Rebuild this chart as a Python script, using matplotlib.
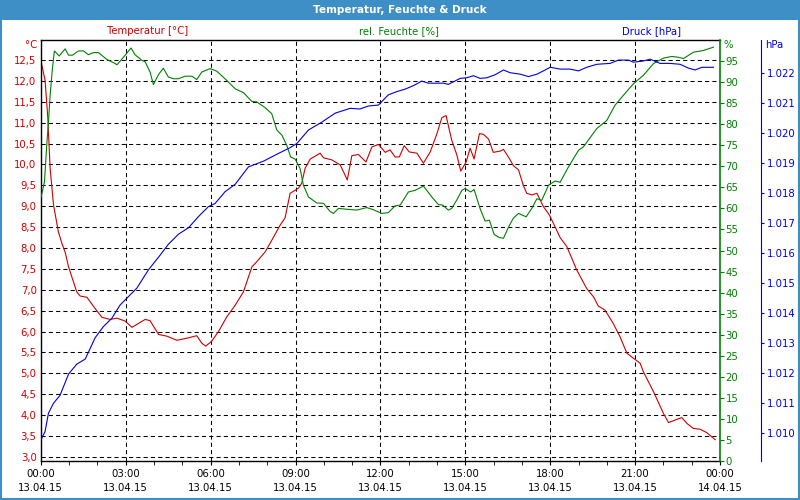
import matplotlib
matplotlib.use("Agg")
import matplotlib.pyplot as plt
from matplotlib.ticker import FixedLocator, FuncFormatter, MultipleLocator
from matplotlib.patches import Rectangle

# hours since 13.04.15 00:00
t_temp = [0.01, 0.15, 0.25, 0.27, 0.33, 0.45, 0.62, 0.75, 0.86, 0.98, 1.27, 1.39, 1.63, 1.92,
          2.16, 2.45, 2.69, 2.98, 3.22, 3.69, 3.86, 4.16, 4.45, 4.81, 5.22, 5.51, 5.69, 5.83,
          6.04, 6.28, 6.57, 6.87, 7.16, 7.46, 7.63, 7.93, 8.10, 8.46, 8.63, 8.81, 9.10, 9.22,
          9.34, 9.52, 9.87, 9.99, 10.28, 10.58, 10.83, 10.99, 11.22, 11.49, 11.70, 11.93,
          12.17, 12.34, 12.52, 12.67, 12.84, 13.02, 13.29, 13.52, 13.76, 13.99, 14.17, 14.32,
          14.52, 14.70, 14.84, 15.03, 15.17, 15.31, 15.50, 15.64, 15.82, 15.99, 16.23, 16.35,
          16.55, 16.70, 16.88, 17.05, 17.17, 17.35, 17.53, 17.76, 17.97, 18.17, 18.35, 18.59,
          18.94, 19.29, 19.53, 19.70, 19.94, 20.23, 20.47, 20.71, 20.94, 21.18, 21.29, 21.65,
          22.00, 22.18, 22.41, 22.65, 22.83, 23.06, 23.30, 23.53, 23.83]
temp = [12.46, 12.02, 11.1, 10.78, 9.9, 9.03, 8.39, 8.1, 7.9, 7.55, 6.95, 6.85, 6.82, 6.55,
        6.34, 6.29, 6.32, 6.25, 6.1, 6.29, 6.26, 5.93, 5.89, 5.79, 5.85, 5.9, 5.72, 5.65,
        5.77, 6.0, 6.35, 6.63, 6.95, 7.55, 7.67, 7.91, 8.11, 8.55, 8.72, 9.31, 9.43, 9.55,
        9.91, 10.13, 10.27, 10.16, 10.11, 9.99, 9.63, 10.21, 10.24, 10.06, 10.42, 10.48,
        10.29, 10.35, 10.18, 10.18, 10.45, 10.3, 10.27, 10.03, 10.3, 10.72, 11.12, 11.17,
        10.58, 10.23, 9.84, 10.06, 10.39, 10.13, 10.74, 10.72, 10.61, 10.29, 10.32, 10.36,
        10.15, 9.97, 9.87, 9.5, 9.31, 9.27, 9.31, 8.99, 8.79, 8.51, 8.25, 8.03,
        7.47, 7.03, 6.83, 6.61, 6.51, 6.19, 5.87, 5.48, 5.36, 5.24, 5.04, 4.56,
        4.04, 3.82, 3.88, 3.94, 3.8, 3.68, 3.66, 3.58, 3.41]

t_hum = [0.01, 0.13, 0.21, 0.27, 0.33, 0.41, 0.48, 0.65, 0.86, 0.98, 1.12, 1.33, 1.51, 1.68,
         1.86, 2.04, 2.33, 2.63, 2.69, 2.92, 3.19, 3.33, 3.57, 3.69, 3.86, 3.98, 4.16, 4.33,
         4.51, 4.69, 4.86, 5.10, 5.34, 5.51, 5.69, 5.98, 6.22, 6.57, 6.87, 7.16, 7.46, 7.63,
         7.93, 8.16, 8.34, 8.52, 8.69, 8.83, 8.99, 9.16, 9.28, 9.46, 9.75, 9.99, 10.22, 10.34,
         10.52, 10.81, 11.17, 11.52, 11.75, 12.05, 12.28, 12.52, 12.70, 12.99, 13.23, 13.52,
         13.82, 14.05, 14.20, 14.40, 14.52, 14.70, 14.88, 14.99, 15.19, 15.31, 15.52, 15.70,
         15.85, 16.02, 16.20, 16.35, 16.53, 16.70, 16.88, 17.15, 17.35, 17.53, 17.70, 17.94,
         18.17, 18.35, 18.64, 19.00, 19.17, 19.65, 20.00, 20.29, 20.59, 20.94, 21.29, 21.65,
         22.00, 22.30, 22.53, 22.71, 23.06, 23.41, 23.77]
hum = [62.7, 66.3, 75, 80.5, 86.9, 93.2, 97.4, 96.2, 97.9, 96.4, 96.4, 97.4, 97.4, 96.5,
       97.0, 97.0, 95.4, 94.4, 94.1, 95.9, 98.1, 96.5, 95.2, 94.8, 92.4, 89.4, 91.8, 93.3,
       91.2, 90.8, 90.8, 91.4, 91.4, 90.6, 92.4, 93.2, 92.6, 90.4, 88.4, 87.5, 85.4, 85.3,
       83.9, 82.5, 78.6, 77.4, 75, 72.2, 71.7, 69.5, 65.5, 62.7, 61.3, 61.2, 59.3, 58.8,
       60, 59.8, 59.6, 60.2, 59.7, 58.8, 59.0, 60.6, 60.8, 63.9, 64.3, 65.3,
       62.7, 60.9, 60.8, 59.6, 60, 62, 64.3, 64.7, 63.9, 64.5, 60, 57,
       57.2, 53.8, 53.1, 52.9, 55.6, 57.7, 58.8, 58.0, 60, 62.3, 61.9, 65.5,
       66.5, 66.2, 69.8, 73.8, 74.6, 79, 80.9, 84.5, 86.9, 89.6, 91.6, 94.4,
       95.7, 96.1, 95.9, 95.6, 97.1, 97.5, 98.3]

t_pres = [0.00, 0.15, 0.27, 0.45, 0.68, 0.98, 1.27, 1.57, 1.92, 2.21, 2.51, 2.80, 3.04, 3.39,
          3.80, 4.22, 4.51, 4.86, 5.22, 5.57, 5.92, 6.16, 6.51, 6.87, 7.34, 7.87, 8.34, 8.81,
          9.05, 9.46, 9.93, 10.40, 10.93, 11.28, 11.58, 11.93, 12.28, 12.58, 12.87, 13.17,
          13.46, 13.70, 14.23, 14.40, 14.82, 15.05, 15.29, 15.52, 15.76, 16.05, 16.35, 16.58,
          16.94, 17.23, 17.53, 17.76, 18.00, 18.35, 18.70, 19.00, 19.29, 19.65, 20.12, 20.41,
          20.77, 20.94, 21.29, 21.53, 21.88, 22.23, 22.59, 22.89, 23.12, 23.36, 23.77]
pres = [1009.77, 1010.05, 1010.66, 1011.0, 1011.26, 1011.97, 1012.3, 1012.47, 1013.18, 1013.55,
        1013.83, 1014.27, 1014.5, 1014.83, 1015.44, 1015.94, 1016.3, 1016.63, 1016.85, 1017.22,
        1017.55, 1017.66, 1018.05, 1018.30, 1018.88, 1019.07, 1019.30, 1019.52, 1019.66, 1020.11,
        1020.37, 1020.67, 1020.83, 1020.81, 1020.91, 1020.94, 1021.28, 1021.39, 1021.47, 1021.59,
        1021.74, 1021.67, 1021.67, 1021.63, 1021.83, 1021.85, 1021.92, 1021.83, 1021.85, 1021.95,
        1022.11, 1022.02, 1021.97, 1021.89, 1021.97, 1022.08, 1022.2, 1022.14, 1022.14, 1022.08,
        1022.2, 1022.3, 1022.33, 1022.44, 1022.44, 1022.37, 1022.41, 1022.47, 1022.33, 1022.33,
        1022.30, 1022.17, 1022.11, 1022.2, 1022.2]

x_ticks = [0, 3, 6, 9, 12, 15, 18, 21, 24]
x_labels = ["00:00\n13.04.15", "03:00\n13.04.15", "06:00\n13.04.15", "09:00\n13.04.15",
            "12:00\n13.04.15", "15:00\n13.04.15", "18:00\n13.04.15", "21:00\n13.04.15",
            "00:00\n14.04.15"]

red = "#cc0000"
green = "#008000"
blue = "#0000dd"
fs = 7.3

plt.rcParams["font.family"] = "DejaVu Sans"
fig = plt.figure(figsize=(8, 5), dpi=100, facecolor="white")

# window frame and title bar
fig.patches.append(Rectangle((0, 0.96), 1, 0.04, transform=fig.transFigure,
                             facecolor="#3d8fc6", edgecolor="none"))
fig.patches.append(Rectangle((0.001, 0.002), 0.998, 0.996, transform=fig.transFigure,
                             facecolor="none", edgecolor="#3d8fc6", lw=1.5))
fig.text(0.5, 0.98, "Temperatur, Feuchte & Druck", color="white", fontsize=7.6,
         fontweight="bold", ha="center", va="center")

ax = fig.add_axes([0.051, 0.078, 0.849, 0.842])
ax.plot(t_temp, temp, color=red, lw=0.8)
ax.set_xlim(0, 24)
ax.set_ylim(2.9, 12.98)
ax.yaxis.set_major_locator(FixedLocator([3 + 0.5 * i for i in range(20)]))
ax.yaxis.set_major_formatter(FuncFormatter(lambda v, p: f"{v:.1f}".replace(".", ",")))
ax.tick_params(axis="y", colors=red, length=0, pad=3, labelsize=fs)
ax.set_xticks(x_ticks)
ax.set_xticklabels(x_labels, linespacing=1.45)
ax.xaxis.set_minor_locator(MultipleLocator(1))
ax.tick_params(axis="x", which="both", length=3, color="black", labelsize=fs, pad=3)
ax.grid(True, color="black", linestyle=(0, (4, 3)), lw=0.75)
for s in ["left", "top", "bottom"]:
    ax.spines[s].set_linewidth(1.0)
ax.spines["right"].set_visible(False)

ax2 = ax.twinx()
ax2.plot(t_hum, hum, color=green, lw=0.8)
ax2.set_ylim(0, 100)
ax2.yaxis.set_major_locator(FixedLocator(list(range(0, 100, 5))))
ax2.tick_params(axis="y", colors=green, length=3, pad=1, labelsize=fs)
ax2.spines["right"].set_color(green)
ax2.spines["right"].set_linewidth(1.2)
for s in ["left", "top", "bottom"]:
    ax2.spines[s].set_visible(False)

ax3 = ax.twinx()
ax3.plot(t_pres, pres, color=blue, lw=0.8)
ax3.set_ylim(1009.07, 1023.11)
ax3.yaxis.set_major_locator(FixedLocator(list(range(1010, 1023))))
ax3.yaxis.set_major_formatter(FuncFormatter(lambda v, p: f"{v:,.0f}".replace(",", ".")))
ax3.tick_params(axis="y", colors=blue, length=2, pad=2, labelsize=fs)
ax3.spines["right"].set_position(("outward", 29.5))
ax3.spines["right"].set_color(blue)
for s in ["left", "top", "bottom"]:
    ax3.spines[s].set_visible(False)

# series names and units above the plot
fig.text(148 / 800, 1 - 31 / 500, "Temperatur [°C]", color=red, fontsize=fs, ha="center", va="center")
fig.text(399 / 800, 1 - 31 / 500, "rel. Feuchte [%]", color=green, fontsize=fs, ha="center", va="center")
fig.text(652 / 800, 1 - 31 / 500, "Druck [hPa]", color=blue, fontsize=fs, ha="center", va="center")
fig.text(37 / 800, 1 - 45 / 500, "°C", color=red, fontsize=fs, ha="right", va="center")
fig.text(724 / 800, 1 - 45 / 500, "%", color=green, fontsize=fs, ha="left", va="center")
fig.text(765 / 800, 1 - 45 / 500, "hPa", color=blue, fontsize=fs, ha="left", va="center")

fig.savefig("out.png", dpi=100, facecolor="white")
